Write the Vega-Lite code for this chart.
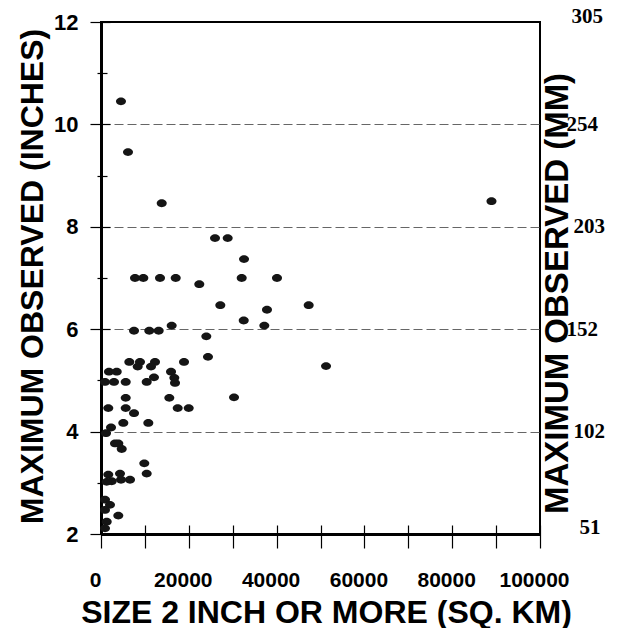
{
  "$schema": "https://vega.github.io/schema/vega-lite/v6.json",
  "width": 439,
  "height": 512,
  "autosize": "none",
  "padding": {"left": 101, "top": 22, "right": 77, "bottom": 94},
  "background": "white",
  "config": {"view": {"stroke": "black", "strokeWidth": 2}, "font": "Liberation Sans"},
  "data": {"values": [
    {"area": 4550, "inches": 10.45}, {"area": 6150, "inches": 9.46}, {"area": 13830, "inches": 8.46}, {"area": 88950, "inches": 8.5},
    {"area": 25970, "inches": 7.78}, {"area": 28860, "inches": 7.78}, {"area": 32580, "inches": 7.37},
    {"area": 7750, "inches": 7.0}, {"area": 9640, "inches": 7.0}, {"area": 13440, "inches": 7.0}, {"area": 17020, "inches": 7.0},
    {"area": 32050, "inches": 7.0}, {"area": 40090, "inches": 7.0}, {"area": 22390, "inches": 6.88},
    {"area": 27180, "inches": 6.47}, {"area": 47310, "inches": 6.47}, {"area": 37810, "inches": 6.38},
    {"area": 32510, "inches": 6.17}, {"area": 37200, "inches": 6.07}, {"area": 16100, "inches": 6.07},
    {"area": 7520, "inches": 5.97}, {"area": 11000, "inches": 5.97}, {"area": 13140, "inches": 5.97},
    {"area": 23990, "inches": 5.86}, {"area": 24370, "inches": 5.46}, {"area": 51260, "inches": 5.28},
    {"area": 6450, "inches": 5.36}, {"area": 8880, "inches": 5.36}, {"area": 8360, "inches": 5.27},
    {"area": 12300, "inches": 5.36}, {"area": 11390, "inches": 5.27}, {"area": 18910, "inches": 5.36},
    {"area": 1820, "inches": 5.17}, {"area": 3580, "inches": 5.17}, {"area": 15950, "inches": 5.17},
    {"area": 16700, "inches": 5.05}, {"area": 16860, "inches": 4.95}, {"area": 910, "inches": 4.97},
    {"area": 2960, "inches": 4.97}, {"area": 5630, "inches": 4.97}, {"area": 10410, "inches": 4.97},
    {"area": 12070, "inches": 5.06}, {"area": 5630, "inches": 4.66}, {"area": 15560, "inches": 4.66},
    {"area": 30300, "inches": 4.67}, {"area": 1660, "inches": 4.46}, {"area": 5630, "inches": 4.46},
    {"area": 7520, "inches": 4.36}, {"area": 17470, "inches": 4.46}, {"area": 19980, "inches": 4.46},
    {"area": 2280, "inches": 4.08}, {"area": 1140, "inches": 3.97}, {"area": 5080, "inches": 4.17},
    {"area": 10780, "inches": 4.17}, {"area": 3190, "inches": 3.77}, {"area": 3940, "inches": 3.77},
    {"area": 4720, "inches": 3.66}, {"area": 9860, "inches": 3.38}, {"area": 10410, "inches": 3.18},
    {"area": 1660, "inches": 3.16}, {"area": 2440, "inches": 3.03}, {"area": 4330, "inches": 3.18},
    {"area": 4560, "inches": 3.06}, {"area": 6610, "inches": 3.06}, {"area": 1300, "inches": 3.02},
    {"area": 910, "inches": 2.67}, {"area": 2050, "inches": 2.57}, {"area": 910, "inches": 2.47},
    {"area": 3940, "inches": 2.36}, {"area": 1300, "inches": 2.24}, {"area": 910, "inches": 2.11}
  ]},
  "layer": [
    {
      "mark": {"type": "point", "filled": true, "shape": "M -1 0 A 1 0.78 0 1 0 1 0 A 1 0.78 0 1 0 -1 0 Z", "size": 100, "color": "#151515", "opacity": 1},
      "encoding": {
        "x": {"field": "area", "type": "quantitative", "scale": {"domain": [0, 100000], "nice": false},
          "axis": {"orient": "bottom", "values": [0, 10000, 20000, 30000, 40000, 50000, 60000, 70000, 80000, 90000, 100000],
            "labelExpr": "datum.value % 20000 === 0 ? format(datum.value, 'd') : ''",
            "labelFont": "Liberation Sans", "labelFontWeight": "bold", "labelFontSize": 21, "labelColor": "black",
            "labelPadding": 21, "labelOffset": -6, "labelFlush": false, "labelOverlap": false,
            "tickSize": 14, "tickColor": "black", "tickWidth": 1.2,
            "domainColor": "black", "domainWidth": 3, "grid": false,
            "title": "SIZE 2 INCH OR MORE (SQ. KM)", "titleFont": "Liberation Sans", "titleFontWeight": "bold", "titleFontSize": 32,
            "titleColor": "black", "titleX": 225, "titleY": 88, "titleAlign": "center", "titleBaseline": "alphabetic"}},
        "y": {"field": "inches", "type": "quantitative", "scale": {"domain": [2, 12], "nice": false, "zero": false},
          "axis": {"orient": "left", "values": [2, 4, 6, 8, 10, 12],
            "labelFont": "Liberation Sans", "labelFontWeight": "bold", "labelFontSize": 22, "labelColor": "black", "labelPadding": 12,
            "tickSize": 11, "tickColor": "black", "tickWidth": 1.2,
            "domainColor": "black", "domainWidth": 3,
            "grid": true, "gridDash": [9, 4], "gridColor": "#666", "gridWidth": 1.2,
            "gridOpacity": {"condition": {"test": "datum.value == 2 || datum.value == 12", "value": 0}, "value": 1},
            "title": "MAXIMUM OBSERVED (INCHES)", "titleFont": "Liberation Sans", "titleFontWeight": "bold", "titleFontSize": 32,
            "titleColor": "black", "titleAngle": 270, "titleX": -69, "titleY": 254, "titleAlign": "center", "titleBaseline": "middle"}}
      }
    },
    {
      "mark": {"type": "point", "opacity": 0},
      "encoding": {
        "x": {"field": "area", "type": "quantitative",
          "axis": {"orient": "bottom", "values": [0, 10000, 20000, 30000, 40000, 50000, 60000, 70000, 80000, 90000, 100000],
            "labels": false, "domain": false, "grid": false, "title": null, "tickSize": 9, "offset": -9, "tickColor": "black", "tickWidth": 1.2}},
        "y": {"field": "inches", "type": "quantitative",
          "axis": {"orient": "right", "values": [2, 4, 6, 8, 10, 12],
            "labelExpr": "format(datum.value * 25.4, '.0f')",
            "labelFont": "Liberation Serif", "labelFontWeight": 700, "labelFontSize": 21, "labelColor": "black",
            "labelPadding": {"condition": [
              {"test": "datum.value == 10 || datum.value == 6", "value": 26},
              {"test": "datum.value == 12", "value": 31},
              {"test": "datum.value == 2", "value": 39}], "value": 33},
            "labelOffset": {"condition": [
              {"test": "datum.value == 2", "value": -7},
              {"test": "datum.value == 12", "value": -6}], "value": 0},
            "labelAlign": "left", "ticks": false, "domain": false, "grid": false,
            "title": "MAXIMUM OBSERVED (MM)", "titleFont": "Liberation Sans", "titleFontWeight": "bold", "titleFontSize": 33,
            "titleColor": "black", "titleAngle": 270, "titleX": 17, "titleY": 271, "titleAlign": "center", "titleBaseline": "middle"}}
      }
    },
    {
      "mark": {"type": "point", "opacity": 0},
      "encoding": {
        "x": {"field": "area", "type": "quantitative", "axis": null},
        "y": {"field": "inches", "type": "quantitative",
          "axis": {"orient": "left", "values": [3, 5, 7, 9, 11], "labels": false, "domain": false, "grid": false, "title": null,
            "tickSize": 10, "offset": -6, "tickColor": "black", "tickWidth": 1.2}}
      }
    },
    {
      "mark": {"type": "point", "opacity": 0},
      "encoding": {
        "x": {"field": "area", "type": "quantitative", "axis": null},
        "y": {"field": "inches", "type": "quantitative",
          "axis": {"orient": "left", "values": [2, 4, 6, 8, 10, 12], "labels": false, "domain": false, "grid": false, "title": null,
            "tickSize": 9, "offset": -9, "tickColor": "black", "tickWidth": 1.2}}
      }
    }
  ],
  "resolve": {"axis": {"x": "independent", "y": "independent"}}
}
